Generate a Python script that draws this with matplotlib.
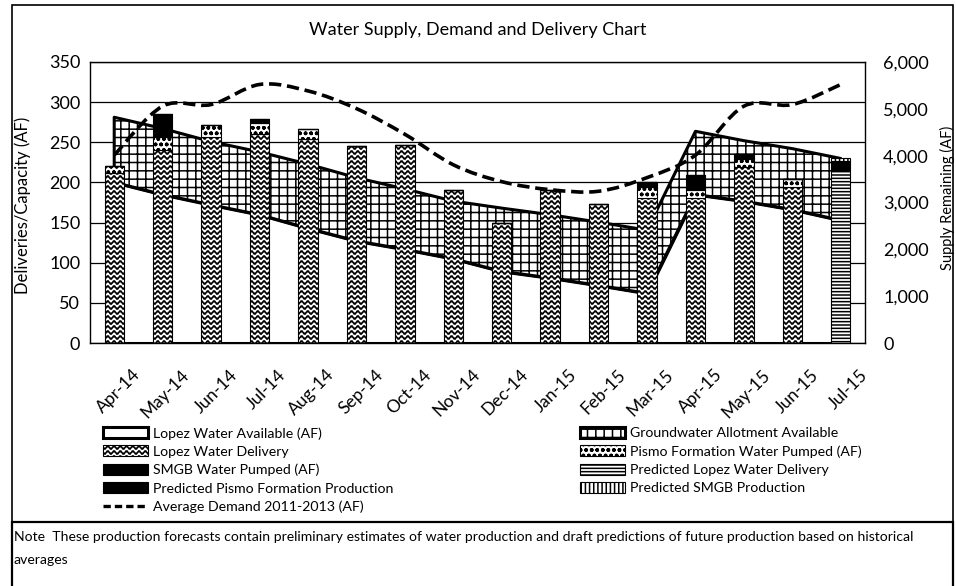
import numpy as np
import matplotlib
matplotlib.use("Agg")
import matplotlib.pyplot as plt
import matplotlib.hatch as mhatch
import matplotlib.transforms as mtransforms
from matplotlib.path import Path
from matplotlib.patches import PathPatch, Rectangle
from matplotlib.lines import Line2D
from matplotlib.ticker import FuncFormatter

plt.rcParams['font.family'] = ['Lato', 'DejaVu Sans']
plt.rcParams['hatch.linewidth'] = 1.1

# ---------------- data ----------------
months = ['Apr-14', 'May-14', 'Jun-14', 'Jul-14', 'Aug-14', 'Sep-14', 'Oct-14', 'Nov-14',
          'Dec-14', 'Jan-15', 'Feb-15', 'Mar-15', 'Apr-15', 'May-15', 'Jun-15', 'Jul-15']

# supply remaining (right axis, AF)
lopez_available = [3430, 3170, 2950, 2740, 2450, 2180, 2000, 1800,
                   1530, 1390, 1230, 1060, 3170, 3030, 2850, 2620]
groundwater_allotment = [1390, 1410, 1350, 1340, 1370, 1350, 1290, 1230,
                         1350, 1350, 1350, 1350, 1350, 1290, 1300, 1320]

# deliveries (left axis, AF)
lopez_delivery = [212, 241, 257, 260, 254, 245, 246, 191, 150, 191, 173, 181, 181, 219, 194, 0]
pismo_pumped = [8, 15, 14, 14, 13, 0, 0, 0, 0, 0, 0, 13, 10, 10, 10, 0]
smgb_pumped = [0, 29, 0, 5, 0, 0, 0, 0, 0, 0, 0, 7, 18, 6, 0, 0]
pred_lopez = [0, 0, 0, 0, 0, 0, 0, 0, 0, 0, 0, 0, 0, 0, 0, 216]
pred_pismo = [0, 0, 0, 0, 0, 0, 0, 0, 0, 0, 0, 0, 0, 0, 0, 11]
pred_smgb = [0, 0, 0, 0, 0, 0, 0, 0, 0, 0, 0, 0, 0, 0, 0, 3]
avg_demand = [234, 295, 297, 322, 314, 292, 260, 222, 201, 191, 189, 206, 234, 295, 297, 322]

left_ticks = [0, 50, 100, 150, 200, 250, 300, 350]
right_ticks = [0, 1000, 2000, 3000, 4000, 5000, 6000]

title = 'Water Supply, Demand and Delivery Chart'
note = ('Note  These production forecasts contain preliminary estimates of water production and '
        'draft predictions of future production based on historical\naverages')


# ---------------- wavy hatch texture ('w') ----------------
class WaveHatch(mhatch.HatchPatternBase):
    def __init__(self, hatch, density):
        n = hatch.count('w')
        self.rows = 20 * n
        self.waves = 16
        self.pts = self.waves * 6 + 1
        self.num_vertices = self.rows * self.pts if n else 0

    def set_vertices_and_codes(self, vertices, codes):
        t = np.linspace(0.0, 1.0, self.pts)
        amp = 0.35 / self.rows
        k = 0
        for r in range(self.rows):
            y0 = (r + 0.5) / self.rows
            vertices[k:k + self.pts, 0] = t
            vertices[k:k + self.pts, 1] = y0 + amp * np.sin(2 * np.pi * self.waves * t)
            codes[k] = Path.MOVETO
            codes[k + 1:k + self.pts] = Path.LINETO
            k += self.pts


mhatch._hatch_types.append(WaveHatch)

# ---------------- figure ----------------
W, H = 956, 586
fig = plt.figure(figsize=(W / 100, H / 100), dpi=100)
rect = [90 / W, 1 - 343 / H, 775 / W, 281 / H]
x = np.arange(len(months))

# grid layer (left-axis gridlines behind areas)
ax_g = fig.add_axes(rect, zorder=0)
ax_g.set_xlim(-0.5, len(months) - 0.5)
ax_g.set_ylim(0, 350)
ax_g.set_yticks(left_ticks)
ax_g.grid(axis='y', color='black', lw=0.9)
ax_g.tick_params(left=False, labelleft=False, bottom=False, labelbottom=False)
for s in ax_g.spines.values():
    s.set_visible(False)

# area layer (right axis)
ax_r = fig.add_axes(rect, zorder=1)
ax_r.patch.set_visible(False)
ax_r.set_xlim(-0.5, len(months) - 0.5)
ax_r.set_ylim(0, 6000)
la = np.array(lopez_available, dtype=float)
gw = la + np.array(groundwater_allotment, dtype=float)
h_avail = ax_r.fill_between(x, 0, la, facecolor='white', edgecolor='black', lw=2.2,
                            label='Lopez Water Available (AF)')
h_gw = ax_r.fill_between(x, la, gw, facecolor='white', edgecolor='black', lw=2.2, hatch='++',
                         label='Groundwater Allotment Available')
ax_r.yaxis.tick_right()
ax_r.set_yticks(right_ticks)
ax_r.yaxis.set_major_formatter(FuncFormatter(lambda v, p: f'{int(v):,}'))
ax_r.tick_params(axis='y', length=0, pad=13, labelsize=13)
ax_r.tick_params(axis='x', bottom=False, labelbottom=False)
ax_r.set_ylabel('Supply Remaining (AF)', fontsize=10.5)
ax_r.yaxis.set_label_position('right')
ax_r.yaxis.set_label_coords((940 - 90) / 775, (343 - 198) / 281)
for s in ax_r.spines.values():
    s.set_visible(False)

# bar / line layer (left axis)
ax_l = fig.add_axes(rect, zorder=2)
ax_l.patch.set_visible(False)
ax_l.set_xlim(-0.5, len(months) - 0.5)
ax_l.set_ylim(0, 350)
ax_l.set_yticks(left_ticks)
ax_l.tick_params(axis='y', length=0, pad=7, labelsize=13)
ax_l.set_ylabel('Deliveries/Capacity (AF)', fontsize=12)
ax_l.yaxis.set_label_coords((31 - 90) / 775, (343 - 205) / 281)

bw = 0.4
bottom = np.zeros(len(months))
series = [
    (lopez_delivery, 'Lopez Water Delivery', 'white', 'w'),
    (pismo_pumped, 'Pismo Formation Water Pumped (AF)', 'white', 'ooo'),
    (smgb_pumped, 'SMGB Water Pumped (AF)', 'black', None),
    (pred_lopez, 'Predicted Lopez Water Delivery', 'white', '-----'),
    (pred_pismo, 'Predicted Pismo Formation Production', 'black', None),
    (pred_smgb, 'Predicted SMGB Production', 'white', '||||'),
]
bar_handles = {}
for vals, lab, fc, hat in series:
    v = np.array(vals, dtype=float)
    bc = ax_l.bar(x, v, bw, bottom=bottom, facecolor=fc, edgecolor='black', lw=0.8,
                  hatch=hat, label=lab)
    bar_handles[lab] = bc
    bottom = bottom + v

# smoothed dashed demand line (Bezier through the data points)
pts = np.column_stack([x, np.array(avg_demand, dtype=float)])
ext = np.vstack([pts[0], pts, pts[-1]])
verts = [pts[0]]
codes = [Path.MOVETO]
for i in range(len(pts) - 1):
    p0, p1, p2, p3 = ext[i], ext[i + 1], ext[i + 2], ext[i + 3]
    verts += [p1 + (p2 - p0) / 6.0, p2 - (p3 - p1) / 6.0, p2]
    codes += [Path.CURVE4] * 3
dem_patch = PathPatch(Path(verts, codes), fill=False, edgecolor='black', lw=2.6,
                      linestyle=(0, (3.4, 1.6)), transform=ax_l.transData, zorder=5)
ax_l.add_patch(dem_patch)
h_dem = Line2D([], [], color='black', lw=2.4, linestyle=(0, (2.2, 1.2)),
               label='Average Demand 2011-2013 (AF)')

ax_l.set_xticks(x)
ax_l.set_xticklabels(months)
ax_l.tick_params(axis='x', length=0, pad=21, labelsize=12.5)
off = mtransforms.ScaledTranslation(0.24, 0, fig.dpi_scale_trans)
for t in ax_l.get_xticklabels():
    t.set_rotation(45)
    t.set_ha('right')
    t.set_va('center')
    t.set_rotation_mode('anchor')
    t.set_transform(t.get_transform() + off)
for s in ax_l.spines.values():
    s.set_color('black')
    s.set_linewidth(1.0)

# legends
leg_kw = dict(frameon=False, borderaxespad=0, borderpad=0, handlelength=3.2,
              handleheight=0.8, handletextpad=0.3, labelspacing=0.42, fontsize=10.2)
fig.legend(handles=[h_avail, bar_handles['Lopez Water Delivery'],
                    bar_handles['SMGB Water Pumped (AF)'],
                    bar_handles['Predicted Pismo Formation Production'], h_dem],
           loc='upper left', bbox_to_anchor=(103 / W, 1 - 427 / H), **leg_kw)
fig.legend(handles=[h_gw, bar_handles['Pismo Formation Water Pumped (AF)'],
                    bar_handles['Predicted Lopez Water Delivery'],
                    bar_handles['Predicted SMGB Production']],
           loc='upper left', bbox_to_anchor=(580 / W, 1 - 427 / H), **leg_kw)

# title, note and frames
fig.text(0.5, 1 - 30 / H, title, ha='center', va='center', fontsize=13)
fig.text(14 / W, 1 - 531 / H, note, ha='left', va='top', fontsize=10.1, linespacing=2.05)
fig.patches.append(Rectangle((12 / W, 1 - 522 / H), 941 / W, 517 / H, transform=fig.transFigure,
                             fill=False, edgecolor='black', lw=1.2))
fig.patches.append(Rectangle((12 / W, -0.01), 941 / W, (586 - 522) / H + 0.01,
                             transform=fig.transFigure, fill=False, edgecolor='black', lw=1.6))

fig.savefig('out.png', dpi=100)
